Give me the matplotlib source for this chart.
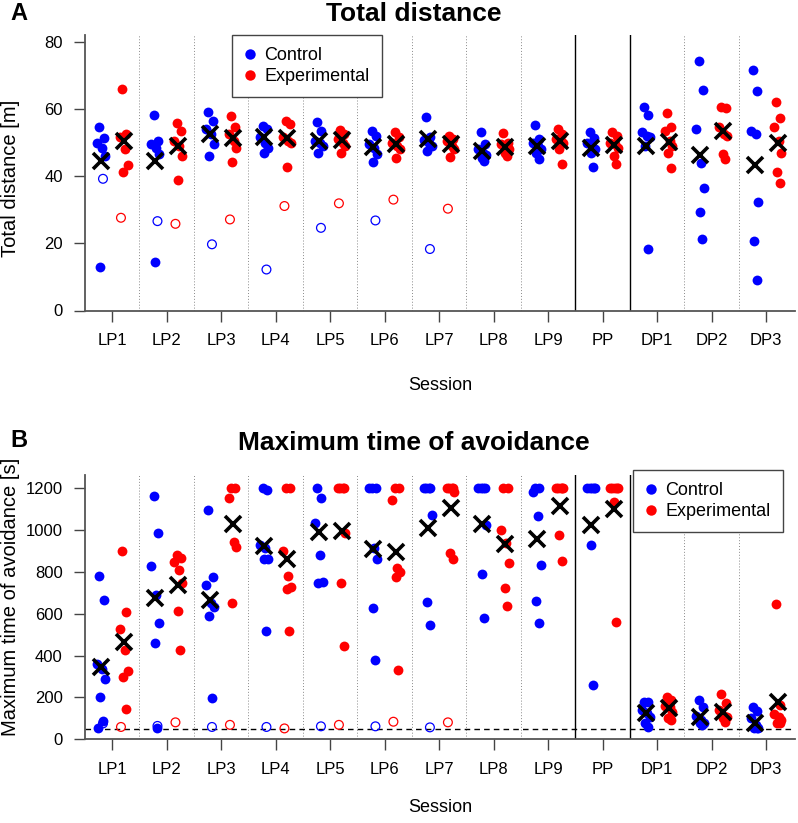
import matplotlib
matplotlib.use("Agg")
import matplotlib.pyplot as plt
from matplotlib.lines import Line2D

plt.rcParams['font.family'] = ['Liberation Sans', 'DejaVu Sans']

# ---------------- data ----------------
sessions = ["LP1", "LP2", "LP3", "LP4", "LP5", "LP6", "LP7", "LP8", "LP9",
            "PP", "DP1", "DP2", "DP3"]

# Panel A: total distance [m]
dist_control = [
    [54.7, 51.3, 50.0, 48.5, 46.1, 12.8],
    [58.1, 50.5, 49.5, 48.5, 46.6, 14.5],
    [59.2, 56.4, 54.0, 52.5, 49.5, 46.1],
    [55.0, 54.0, 51.5, 50.0, 48.5, 47.0],
    [56.2, 53.5, 50.5, 50.0, 48.9, 47.0],
    [53.5, 52.0, 49.5, 48.5, 46.6, 44.1],
    [57.7, 51.5, 50.8, 50.0, 49.0, 47.4],
    [53.0, 49.5, 48.0, 47.0, 46.4, 45.5, 44.6],
    [55.2, 51.0, 50.0, 48.9, 48.0, 47.0, 45.1],
    [53.0, 51.3, 50.0, 48.9, 48.0, 47.0, 42.8],
    [60.6, 58.1, 53.0, 52.0, 51.5, 49.0, 18.3],
    [74.4, 65.6, 54.0, 43.9, 36.4, 29.3, 21.4],
    [71.6, 65.3, 53.5, 52.5, 32.2, 20.6, 9.0],
]
dist_experimental = [
    [65.8, 52.5, 51.5, 48.1, 43.4, 41.1],
    [55.8, 53.5, 50.5, 49.0, 46.1, 38.7],
    [57.9, 54.5, 52.5, 50.5, 48.5, 44.3],
    [56.4, 55.5, 51.5, 50.5, 50.0, 42.8],
    [53.7, 52.5, 51.0, 50.0, 49.0, 47.0],
    [53.0, 51.5, 50.0, 49.0, 48.0, 45.3],
    [52.0, 51.0, 50.5, 49.0, 48.1, 45.6],
    [52.8, 50.0, 49.5, 48.5, 48.1, 47.0, 46.0],
    [54.0, 52.5, 51.0, 50.5, 50.0, 48.1, 43.6],
    [53.0, 52.0, 50.0, 49.5, 48.5, 46.0, 43.6],
    [58.9, 54.5, 53.5, 50.5, 49.0, 47.0, 42.3],
    [60.6, 60.4, 54.5, 52.5, 52.0, 46.6, 45.1],
    [62.2, 57.4, 54.7, 50.5, 47.0, 41.1, 38.0],
]
dist_control_excluded = [39.2, 26.6, 19.7, 12.2, 24.6, 26.8, 18.3, None, None, None, None, None, None]
dist_experimental_excluded = [27.6, 25.8, 27.1, 31.1, 31.9, 33.0, 30.3, None, None, None, None, None, None]
dist_control_mean = [44.6, 44.6, 52.5, 51.5, 50.5, 48.6, 51.0, 47.4, 48.9, 48.5, 49.0, 46.4, 43.3]
dist_experimental_mean = [50.5, 49.0, 51.3, 51.3, 50.8, 49.5, 49.5, 48.7, 50.5, 49.2, 50.1, 53.5, 50.0]

# Panel B: maximum time of avoidance [s]
avoid_control = [
    [782, 666, 360, 334, 287, 202, 89, 52],
    [1165, 985, 828, 690, 554, 459, 52],
    [1096, 777, 738, 650, 631, 591, 199],
    [1200, 1189, 929, 913, 860, 860, 518],
    [1200, 1152, 1032, 881, 754, 746],
    [1200, 1200, 1200, 913, 860, 629, 379],
    [1200, 1200, 1200, 1200, 1072, 658, 546],
    [1200, 1200, 1200, 1200, 1024, 790, 581],
    [1200, 1200, 1184, 1067, 833, 663, 554],
    [1200, 1200, 1200, 1200, 1200, 929, 260],
    [180, 180, 140, 124, 108, 80, 60],
    [188, 156, 110, 92, 80, 76, 68],
    [153, 137, 100, 68, 55, 52, 52],
]
avoid_experimental = [
    [899, 610, 526, 427, 328, 299, 146],
    [881, 865, 845, 809, 745, 613, 427],
    [1200, 1200, 1152, 945, 921, 653],
    [1200, 1200, 900, 781, 730, 719, 518],
    [1200, 1200, 1200, 1200, 988, 746, 446],
    [1200, 1200, 1144, 817, 801, 777, 331],
    [1200, 1200, 1200, 1200, 1184, 892, 860],
    [1200, 1200, 1000, 937, 844, 725, 637],
    [1200, 1200, 1200, 1200, 1200, 977, 854],
    [1200, 1200, 1200, 1200, 1200, 1136, 562],
    [204, 188, 160, 156, 132, 100, 92],
    [217, 172, 140, 110, 108, 100, 84],
    [645, 164, 120, 108, 90, 80, 76],
]
avoid_control_excluded = [76, 64, 59, 59, 62, 62, 57, None, None, None, None, None, None]
avoid_experimental_excluded = [59, 81, 69, 52, 69, 84, 81, None, None, None, None, None, None]
avoid_control_mean = [347, 674, 666, 924, 993, 910, 1008, 1028, 956, 1024, 124, 108, 76]
avoid_experimental_mean = [464, 738, 1029, 860, 996, 897, 1104, 934, 1117, 1101, 148, 132, 180]
criterion = 50

# ---------------- layout ----------------
W, H = 798, 823
fig = plt.figure(figsize=(W / 100, H / 100), dpi=100)


def px_axes(left, top, right, bottom):
    return fig.add_axes([left / W, 1 - bottom / H, (right - left) / W, (bottom - top) / H])


JIT = [-0.03, 0.05, -0.07, 0.02, 0.07, -0.01, 0.04, -0.05]
CTRL_OFF, EXP_OFF = -0.21, 0.21
BLUE, RED = "#0000FF", "#FF0000"
TICKFS = 12


def draw_panel(ax, ctrl, exp, ctrl_ex, exp_ex, ctrl_mean, exp_mean, ymax, yticks):
    n = len(sessions)
    for b in range(1, n):
        xb = b + 0.5
        if b in (9, 10):
            ax.axvline(xb, color="black", lw=1.0, zorder=1)
        else:
            ax.axvline(xb, color="#8a8a8a", lw=0.7, ls=(0, (1, 2)), zorder=1)
    for i in range(n):
        x0 = i + 1
        for off, vals, col in ((CTRL_OFF, ctrl[i], BLUE), (EXP_OFF, exp[i], RED)):
            xs = [x0 + off + JIT[k % len(JIT)] for k in range(len(vals))]
            ax.scatter(xs, vals, s=50, color=col, linewidths=0, zorder=3)
        if ctrl_ex[i] is not None:
            ax.scatter([x0 - 0.17], [ctrl_ex[i]], s=40, facecolors="none",
                       edgecolors=BLUE, linewidths=0.9, zorder=3)
        if exp_ex[i] is not None:
            ax.scatter([x0 + 0.16], [exp_ex[i]], s=40, facecolors="none",
                       edgecolors=RED, linewidths=0.9, zorder=3)
    xs_c = [i + 1 + CTRL_OFF for i in range(n)]
    xs_e = [i + 1 + EXP_OFF for i in range(n)]
    ax.plot(xs_c, ctrl_mean, ls="none", marker="x", ms=12, mew=2.6, color="black", zorder=4)
    ax.plot(xs_e, exp_mean, ls="none", marker="x", ms=12, mew=2.6, color="black", zorder=4)

    ax.set_xlim(0.5, 13.53)
    ax.set_ylim(0, ymax)
    ax.set_xticks(range(1, n + 1))
    ax.set_xticklabels(sessions)
    ax.set_yticks(yticks)
    for s in ("top", "right"):
        ax.spines[s].set_visible(False)
    for s in ("left", "bottom"):
        ax.spines[s].set_color("#555555")
        ax.spines[s].set_linewidth(1.3)
    ax.tick_params(axis="both", direction="out", length=8, width=1.0, color="#444444",
                   labelsize=TICKFS, labelcolor="black")
    ax.tick_params(axis="x", pad=8)
    ax.tick_params(axis="y", pad=8)
    ax.patch.set_alpha(0)


def legend(ax, left_px, top_px):
    hs = [Line2D([], [], ls="none", marker="o", ms=7.5, mfc=BLUE, mec=BLUE, mew=0),
          Line2D([], [], ls="none", marker="o", ms=7.5, mfc=RED, mec=RED, mew=0)]
    lg = ax.legend(hs, ["Control", "Experimental"], loc="upper left",
                   bbox_to_anchor=(left_px / W, 1 - top_px / H), bbox_transform=fig.transFigure,
                   fontsize=13, frameon=True, fancybox=False, borderpad=0.68,
                   handlelength=0.6, handletextpad=0.5, labelspacing=0.2,
                   borderaxespad=0)
    fr = lg.get_frame()
    fr.set_edgecolor("#444444")
    fr.set_linewidth(1.0)
    fr.set_facecolor("white")
    fr.set_alpha(1)
    lg.set_zorder(10)


# Panel A
axA = px_axes(85, 35, 795, 310.5)
draw_panel(axA, dist_control, dist_experimental, dist_control_excluded,
           dist_experimental_excluded, dist_control_mean, dist_experimental_mean,
           82, [0, 20, 40, 60, 80])
legend(axA, 232, 35)

# Panel B
axB = px_axes(85, 475, 795, 739.3)
axB.axhline(criterion, color="black", lw=1.0, ls=(0, (4, 3)), zorder=2)
draw_panel(axB, avoid_control, avoid_experimental, avoid_control_excluded,
           avoid_experimental_excluded, avoid_control_mean, avoid_experimental_mean,
           1263, [0, 200, 400, 600, 800, 1000, 1200])
legend(axB, 633, 470)

# Texts
fig.text(413.5 / W, 1 - 21 / H, "Total distance", ha="center", va="baseline",
         fontsize=19, fontweight="bold")
fig.text(10 / W, 1 - 20 / H, "A", ha="left", va="baseline", fontsize=17, fontweight="bold")
fig.text(413.5 / W, 1 - 450 / H, "Maximum time of avoidance", ha="center", va="baseline",
         fontsize=19, fontweight="bold")
fig.text(10 / W, 1 - 447 / H, "B", ha="left", va="baseline", fontsize=17, fontweight="bold")

fig.text(11 / W, 1 - 178 / H, "Total distance [m]", rotation=90, ha="center", va="center",
         fontsize=14.5)
fig.text(11 / W, 1 - 597 / H, "Maximum time of avoidance [s]", rotation=90, ha="center",
         va="center", fontsize=14.5)
fig.text(440 / W, 1 - 385 / H, "Session", ha="center", va="center", fontsize=13)
fig.text(440 / W, 1 - 808 / H, "Session", ha="center", va="center", fontsize=13)

fig.savefig("out.png", dpi=100)
